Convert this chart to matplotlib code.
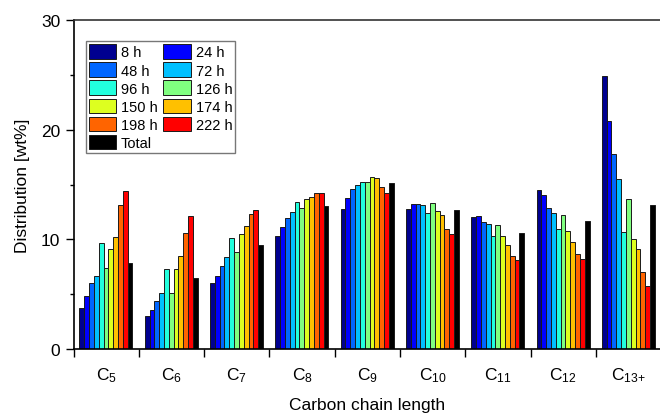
import numpy as np
import matplotlib
matplotlib.use("Agg")
import matplotlib.pyplot as plt
from matplotlib.ticker import MultipleLocator

plt.rcParams["font.family"] = "Liberation Sans"
plt.rcParams["mathtext.fontset"] = "custom"
plt.rcParams["mathtext.rm"] = "Liberation Sans"
plt.rcParams["mathtext.it"] = "Liberation Sans"

# carbon number groups
categories = ["5", "6", "7", "8", "9", "10", "11", "12", "13{+}"]
series_labels = ["8 h", "24 h", "48 h", "72 h", "96 h", "126 h",
                 "150 h", "174 h", "198 h", "222 h", "Total"]
colors = ["#000090", "#0000FF", "#0066FF", "#00C0FF", "#22FFDD", "#80FF80",
          "#DDFF20", "#FFC000", "#FF6400", "#FF0000", "#000000"]

# wt% per category, one list per time on stream
h8 = [3.7, 3.0, 6.0, 10.3, 12.8, 12.8, 12.0, 14.5, 24.9]
h24 = [4.8, 3.6, 6.7, 11.1, 13.8, 13.2, 12.1, 14.0, 20.8]
h48 = [6.0, 4.4, 7.6, 11.9, 14.6, 13.2, 11.6, 12.9, 17.8]
h72 = [6.7, 5.1, 8.4, 12.5, 15.0, 13.1, 11.4, 12.4, 15.5]
h96 = [9.7, 7.3, 10.1, 13.4, 15.2, 12.4, 10.3, 10.9, 10.7]
h126 = [7.4, 5.1, 8.8, 12.9, 15.2, 13.3, 11.3, 12.2, 13.7]
h150 = [9.1, 7.3, 10.5, 13.7, 15.7, 12.6, 10.3, 10.8, 10.0]
h174 = [10.2, 8.5, 11.2, 13.9, 15.6, 12.2, 9.5, 9.8, 9.1]
h198 = [13.1, 10.6, 12.3, 14.2, 14.8, 10.9, 8.5, 8.7, 7.0]
h222 = [14.4, 12.1, 12.7, 14.2, 14.2, 10.5, 8.1, 8.2, 5.7]
total = [7.8, 6.5, 9.5, 13.0, 15.1, 12.7, 10.6, 11.7, 13.1]

series = [h8, h24, h48, h72, h96, h126, h150, h174, h198, h222, total]

fig = plt.figure(figsize=(6.6, 4.14), dpi=100)
ax = fig.add_axes([73.5 / 660, 64 / 414, (660 - 73.5) / 660 * 1.002, 329 / 414])

x = np.arange(len(categories))
w = 0.0738
offsets = (np.arange(len(series)) - (len(series) - 1) / 2) * w + 0.497
handles = []
for i, (vals, col, lab) in enumerate(zip(series, colors, series_labels)):
    b = ax.bar(x + offsets[i], vals, width=w, color=col, edgecolor="#1a1a1a",
               linewidth=0.7, label=lab, zorder=2)
    handles.append(b)

ax.set_xlim(0, 9)
ax.set_ylim(0, 30)
ax.set_xticks(np.arange(0, 9))
ax.set_xticklabels([])
ax.set_xticks(x + 0.5, minor=True)
ax.set_xticklabels([r"C$_{%s}$" % c for c in categories], minor=True, fontsize=12.5)
ax.tick_params(axis="x", which="minor", length=0, pad=12)
ax.tick_params(axis="x", which="major", length=6, width=1, direction="out")
ax.yaxis.set_major_locator(MultipleLocator(10))
ax.yaxis.set_minor_locator(MultipleLocator(5))
ax.tick_params(axis="y", which="major", length=6, width=1, labelsize=12.5, direction="out")
ax.tick_params(axis="y", which="minor", length=3, width=1, direction="out")
ax.spines["right"].set_visible(False)
for s in ["left", "bottom", "top"]:
    ax.spines[s].set_linewidth(1.2)
ax.spines["top"].set_color("#333333")

ax.set_ylabel("Distribution [wt%]", fontsize=12.5, labelpad=8)
ax.set_xlabel("Carbon chain length", fontsize=12.5, labelpad=9)

# row-wise legend order: first column 8,48,96,150,198,Total; second 24,72,126,174,222
order = [0, 2, 4, 6, 8, 10, 1, 3, 5, 7, 9]
leg = ax.legend([handles[i] for i in order], [series_labels[i] for i in order],
                ncol=2, loc="upper left", bbox_to_anchor=(0.021, 0.935),
                fontsize=10.5, frameon=True, fancybox=False, edgecolor="#555555",
                handlelength=1.9, handleheight=1.15, handletextpad=0.3,
                columnspacing=0.4, labelspacing=0.2, borderpad=0.2,
                borderaxespad=0)
leg.get_frame().set_linewidth(1.0)

fig.savefig("out.png", dpi=100)
